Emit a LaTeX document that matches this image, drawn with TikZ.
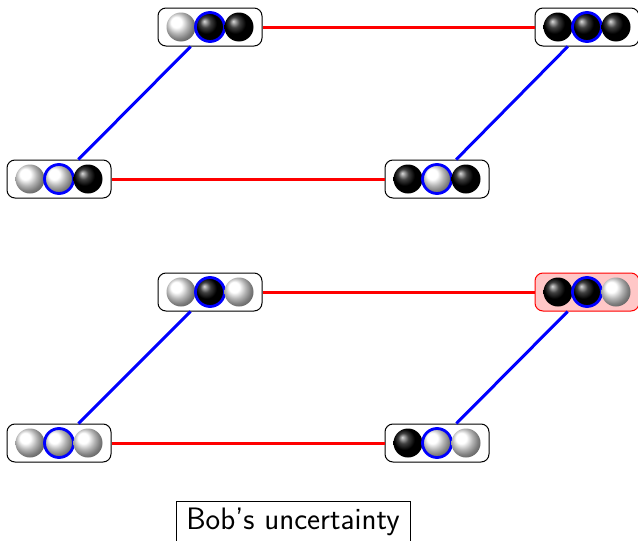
\documentclass[tikz,border=0pt]{standalone}
\usetikzlibrary{calc}
\tikzset{
  x=1pt,y=1pt,
  tri/.style={draw=black, line width=1pt, rounded corners=8pt, minimum width=104pt, minimum height=38pt, fill=white, inner sep=0pt},
  hot/.style={tri, draw=red, fill=red!22},
  blueline/.style={blue, line width=3pt},
  redline/.style={red, line width=3pt},
  ring/.style={blue, line width=2.8pt}
}
\newcommand{\threeballs}[4]{%
  \shade[ball color=#2] ($(#1.center)+(-29,0)$) circle (14.5);
  \shade[ball color=#3] (#1.center) circle (14.5);
  \draw[ring] (#1.center) circle (14.5);
  \shade[ball color=#4] ($(#1.center)+(29,0)$) circle (14.5);
}
\begin{document}
\begin{tikzpicture}
\useasboundingbox (0,0) rectangle (638,-541);
% top group
\node[tri] (a1) at (210,-27) {};
\node[tri] (a2) at (587,-27) {};
\node[tri] (a3) at (59,-179) {};
\node[tri] (a4) at (437,-179) {};
\draw[redline] (a1) -- (a2);
\draw[redline] (a3) -- (a4);
\draw[blueline] (a1) -- (a3);
\draw[blueline] (a2) -- (a4);
\threeballs{a1}{white}{black}{black}
\threeballs{a2}{black}{black}{black}
\threeballs{a3}{white}{white}{black}
\threeballs{a4}{black}{white}{black}
% bottom group
\node[tri] (b1) at (210,-292) {};
\node[hot] (b2) at (587,-292) {};
\node[tri] (b3) at (59,-443) {};
\node[tri] (b4) at (437,-443) {};
\draw[redline] (b1) -- (b2);
\draw[redline] (b3) -- (b4);
\draw[blueline] (b1) -- (b3);
\draw[blueline] (b2) -- (b4);
\threeballs{b1}{white}{black}{white}
\threeballs{b2}{black}{black}{white}
\threeballs{b3}{white}{white}{white}
\threeballs{b4}{black}{white}{white}
% label
\node[draw=black, line width=1pt, minimum width=234pt, minimum height=40pt, inner sep=0pt,
  font=\fontsize{31}{36}\selectfont\sffamily] (lab) at (293,-521.5) {Bob's uncertainty};
\end{tikzpicture}
\end{document}
